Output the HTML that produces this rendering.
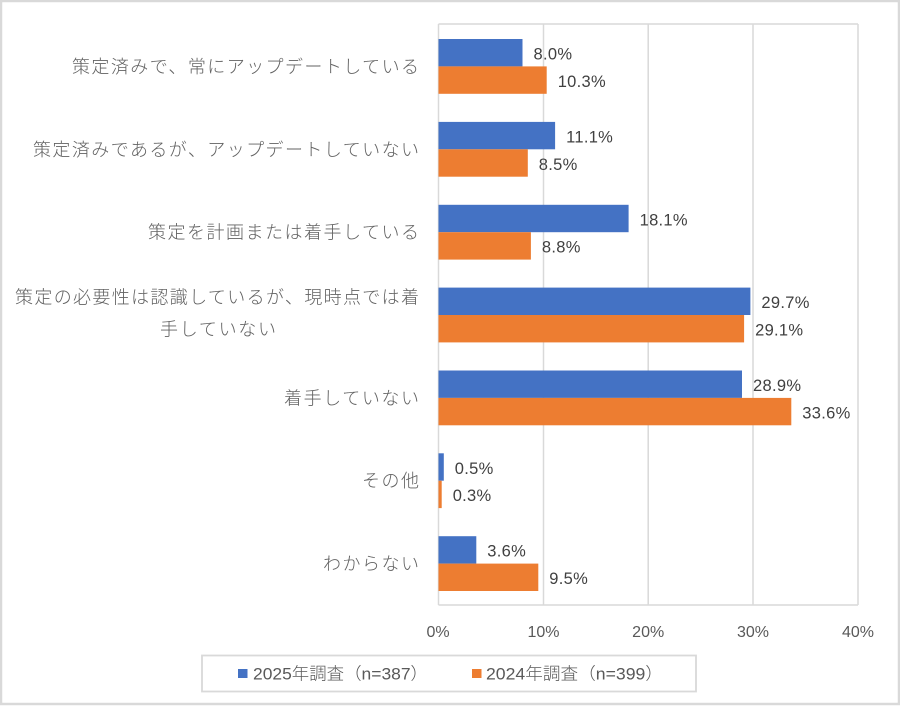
<!DOCTYPE html>
<html><head><meta charset="utf-8"><style>
html,body{margin:0;padding:0;background:#fff;}
svg{display:block;}
.cat{font-family:"Liberation Sans","Noto Sans CJK JP",sans-serif;font-size:18px;fill:#626262;font-weight:300;}
.val{font-family:"Liberation Sans","Noto Sans CJK JP",sans-serif;font-size:16.5px;fill:#404040;letter-spacing:0.3px;}
.tick{font-family:"Liberation Sans","Noto Sans CJK JP",sans-serif;font-size:16px;fill:#595959;}
.leg{font-family:"Liberation Sans","Noto Sans CJK JP",sans-serif;font-size:17px;fill:#595959;font-weight:300;}
</style></head><body>
<svg width="900" height="706" viewBox="0 0 900 706" xmlns="http://www.w3.org/2000/svg">
<rect x="1" y="1" width="898" height="703" fill="#fff" stroke="#d9d9d9" stroke-width="2.5"/>
<g stroke="#d9d9d9" stroke-width="1.5" fill="none">
<line x1="438.5" y1="24" x2="858" y2="24"/>
<line x1="543.5" y1="24" x2="543.5" y2="605"/>
<line x1="648.2" y1="24" x2="648.2" y2="605"/>
<line x1="753" y1="24" x2="753" y2="605"/>
<line x1="858" y1="24" x2="858" y2="605"/>
<line x1="438.5" y1="605" x2="858" y2="605"/>
<line x1="438.5" y1="24" x2="438.5" y2="605"/>
</g>
<g>
<rect x="438.5" y="39" width="84" height="27.4" fill="#4472C4"/>
<rect x="438.5" y="66.4" width="108.2" height="27.4" fill="#ED7D31"/>
<rect x="438.5" y="121.9" width="116.6" height="27.4" fill="#4472C4"/>
<rect x="438.5" y="149.3" width="89.3" height="27.4" fill="#ED7D31"/>
<rect x="438.5" y="204.8" width="190.1" height="27.4" fill="#4472C4"/>
<rect x="438.5" y="232.2" width="92.4" height="27.4" fill="#ED7D31"/>
<rect x="438.5" y="287.6" width="311.9" height="27.4" fill="#4472C4"/>
<rect x="438.5" y="315" width="305.6" height="27.4" fill="#ED7D31"/>
<rect x="438.5" y="370.5" width="303.5" height="27.4" fill="#4472C4"/>
<rect x="438.5" y="397.9" width="352.8" height="27.4" fill="#ED7D31"/>
<rect x="438.5" y="453.3" width="5.3" height="27.4" fill="#4472C4"/>
<rect x="438.5" y="480.7" width="3.2" height="27.4" fill="#ED7D31"/>
<rect x="438.5" y="536.2" width="37.8" height="27.4" fill="#4472C4"/>
<rect x="438.5" y="563.6" width="99.8" height="27.4" fill="#ED7D31"/>
</g>
<g class="val">
<text x="533.5" y="59.5">8.0%</text>
<text x="557.7" y="86.9">10.3%</text>
<text x="566.1" y="142.4">11.1%</text>
<text x="538.8" y="169.8">8.5%</text>
<text x="639.6" y="225.3">18.1%</text>
<text x="541.9" y="252.7">8.8%</text>
<text x="761.4" y="308.1">29.7%</text>
<text x="755.1" y="335.5">29.1%</text>
<text x="753" y="391">28.9%</text>
<text x="802.3" y="418.4">33.6%</text>
<text x="454.8" y="473.8">0.5%</text>
<text x="452.7" y="501.2">0.3%</text>
<text x="487.3" y="556.7">3.6%</text>
<text x="549.3" y="584.1">9.5%</text>
</g>
<g class="cat">
<text x="72" y="72.9" textLength="347" lengthAdjust="spacing">策定済みで、常にアップデートしている</text>
<text x="33" y="155.8" textLength="386" lengthAdjust="spacing">策定済みであるが、アップデートしていない</text>
<text x="148" y="238.7" textLength="271" lengthAdjust="spacing">策定を計画または着手している</text>
<text x="15" y="303.5" textLength="404" lengthAdjust="spacing">策定の必要性は認識しているが、現時点では着</text>
<text x="160" y="335.5" textLength="116" lengthAdjust="spacing">手していない</text>
<text x="284" y="404.4" textLength="135" lengthAdjust="spacing">着手していない</text>
<text x="362" y="487.2" textLength="57" lengthAdjust="spacing">その他</text>
<text x="323" y="570.1" textLength="96" lengthAdjust="spacing">わからない</text>
</g>
<g class="tick" text-anchor="middle">
<text x="438" y="637">0%</text>
<text x="543.5" y="637">10%</text>
<text x="648.2" y="637">20%</text>
<text x="753" y="637">30%</text>
<text x="858" y="637">40%</text>
</g>
<rect x="202" y="655.5" width="494" height="36" fill="#fff" stroke="#d9d9d9" stroke-width="1.8"/>
<rect x="238" y="669" width="9.5" height="9" fill="#4472C4"/>
<text class="leg" x="253" y="679.5" textLength="175" lengthAdjust="spacingAndGlyphs">2025年調査（n=387）</text>
<rect x="472" y="669" width="9.5" height="9" fill="#ED7D31"/>
<text class="leg" x="486" y="679.5" textLength="177" lengthAdjust="spacingAndGlyphs">2024年調査（n=399）</text>
</svg>
</body></html>
